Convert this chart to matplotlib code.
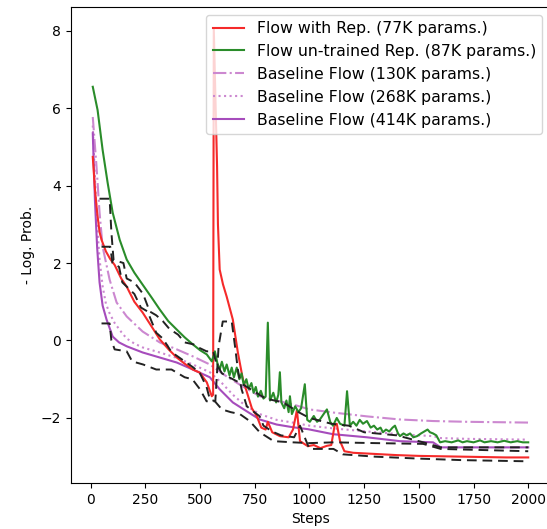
import matplotlib
matplotlib.use("Agg")
import matplotlib.pyplot as plt

# ---- data ----
red_steps = [10, 20, 30, 41, 50, 70, 90, 110, 140, 165, 200, 238, 280, 316, 360, 394, 430, 467, 499, 531, 554,
             560, 563, 578, 582, 590, 605, 622, 650, 673, 696, 737, 760, 780, 800, 810, 830, 865, 905, 925, 943,
             957, 993, 1020, 1050, 1080, 1100, 1115, 1125, 1140, 1160, 1200, 1300, 1400, 1500, 1600, 1700, 1800,
             1900, 2000]
red_vals = [4.74, 3.9, 3.3, 2.8, 2.6, 2.3, 2.1, 1.95, 1.6, 1.39, 1.0, 0.72, 0.35, 0.03, -0.25, -0.44, -0.6, -0.75,
            -0.83, -1.08, -1.44, -1.4, 8.05, 4.5, 3.0, 1.83, 1.45, 1.13, 0.54, -0.31, -1.0, -1.75, -1.96, -2.25,
            -2.3, -2.1, -2.37, -2.47, -2.5, -2.3, -1.8, -2.6, -2.73, -2.7, -2.78, -2.72, -2.7, -2.2, -2.15, -2.6,
            -2.86, -2.9, -2.93, -2.96, -2.98, -2.99, -3.0, -3.01, -3.02, -3.02]

green_steps = [10, 32, 55, 78, 101, 133, 165, 200, 238, 280, 316, 355, 394, 430, 467, 500, 531, 554, 568, 580,
               590, 600, 612, 622, 635, 645, 655, 668, 680, 690, 700, 712, 722, 735, 745, 755, 765, 778, 790, 800,
               810, 820, 835, 848, 858, 865, 872, 885, 895, 905, 911, 920, 935, 950, 962, 979, 990, 1002, 1020,
               1035, 1048, 1065, 1080, 1095, 1108, 1125, 1140, 1160, 1172, 1185, 1200, 1215, 1230, 1245, 1263,
               1280, 1295, 1310, 1325, 1336, 1350, 1365, 1380, 1391, 1405, 1414, 1430, 1445, 1460, 1475, 1492,
               1510, 1525, 1540, 1551, 1565, 1580, 1597, 1620, 1650, 1680, 1700, 1720, 1750, 1780, 1800, 1830,
               1860, 1890, 1920, 1950, 1975, 2000]
green_vals = [6.55, 5.95, 4.92, 4.07, 3.3, 2.6, 2.09, 1.75, 1.44, 1.1, 0.8, 0.5, 0.28, 0.08, -0.1, -0.25, -0.36,
              -0.54, -0.28, -0.6, -0.75, -0.55, -0.8, -0.62, -0.9, -0.7, -0.95, -0.7, -1.0, -0.85, -1.15, -1.0,
              -1.25, -1.1, -1.35, -1.2, -1.45, -1.3, -1.5, -1.45, 0.46, -1.55, -1.35, -1.6, -1.4, -0.82, -1.6,
              -1.75, -1.55, -1.85, -1.44, -1.9, -1.7, -1.85, -1.75, -1.13, -2.05, -2.1, -1.95, -2.1, -2.04, -1.9,
              -1.78, -2.1, -2.2, -2.0, -2.15, -2.2, -1.31, -2.2, -2.1, -2.2, -2.05, -2.15, -2.08, -2.25, -2.2,
              -2.3, -2.25, -2.37, -2.3, -2.35, -2.25, -2.2, -2.4, -2.47, -2.4, -2.45, -2.4, -2.5, -2.47, -2.4,
              -2.35, -2.3, -2.37, -2.4, -2.45, -2.63, -2.6, -2.63, -2.58, -2.63, -2.6, -2.63, -2.58, -2.63, -2.6,
              -2.63, -2.59, -2.63, -2.6, -2.63, -2.63]

b130_steps = [10, 27, 41, 55, 87, 119, 165, 238, 316, 394, 467, 545, 622, 696, 773, 850, 924, 1000, 1108, 1263,
              1414, 1565, 1721, 2000]
b130_vals = [5.77, 4.5, 3.3, 2.42, 1.57, 0.98, 0.62, 0.23, -0.05, -0.23, -0.41, -0.62, -0.93, -1.19, -1.44,
             -1.55, -1.65, -1.78, -1.86, -1.96, -2.04, -2.08, -2.1, -2.12]

b268_steps = [10, 20, 30, 41, 55, 70, 87, 110, 140, 165, 200, 238, 316, 394, 467, 545, 600, 650, 700, 773, 850,
              924, 1000, 1108, 1263, 1414, 1565, 1600, 1721, 2000]
b268_vals = [5.55, 4.2, 3.0, 2.1, 1.4, 0.95, 0.7, 0.45, 0.22, 0.05, -0.08, -0.18, -0.31, -0.45, -0.62, -0.82,
             -1.1, -1.4, -1.65, -1.9, -2.05, -2.12, -2.2, -2.27, -2.35, -2.42, -2.47, -2.52, -2.54, -2.56]

b414_steps = [10, 20, 30, 41, 55, 73, 101, 130, 165, 238, 316, 394, 467, 545, 590, 650, 714, 773, 850, 924, 993,
              1108, 1263, 1414, 1565, 1600, 2000]
b414_vals = [5.35, 3.6, 2.4, 1.5, 0.9, 0.54, 0.1, -0.05, -0.15, -0.31, -0.44, -0.57, -0.75, -0.95, -1.26, -1.6,
             -1.83, -2.04, -2.17, -2.24, -2.29, -2.42, -2.5, -2.6, -2.63, -2.76, -2.76]

# unlabeled black dashed runs
dash1_steps = [41, 87, 95, 105, 150, 165, 200, 240, 270, 300, 330, 360, 400, 430, 470, 500, 530, 560, 575, 600,
               700, 800, 880, 950, 1000, 1100, 1180, 1250, 1400, 1520, 1600, 2000]
dash1_vals = [3.66, 3.66, 2.8, 2.08, 2.0, 1.6, 1.5, 1.2, 0.75, 0.65, 0.5, 0.3, 0.15, -0.05, -0.1, -0.2, -0.28,
              -0.28, -0.6, -0.85, -1.15, -1.5, -1.6, -1.85, -2.0, -2.15, -2.2, -2.37, -2.45, -2.63, -2.76, -2.76]

dash2_steps = [50, 90, 100, 130, 145, 200, 230, 260, 300, 330, 370, 420, 470, 500, 530, 545, 570, 585, 604, 645,
               660, 673, 690, 714, 773, 790, 830, 870, 930, 957, 1000, 1110, 1153, 1300, 1500, 1700, 2000]
dash2_vals = [2.42, 2.42, 2.0, 1.9, 1.5, 1.2, 0.85, 0.75, 0.2, 0.05, -0.3, -0.5, -0.7, -0.85, -1.2, -1.52, -1.57,
              -0.15, 0.49, 0.49, -0.15, -0.75, -1.26, -1.7, -1.96, -2.2, -2.35, -2.45, -2.5, -2.2, -2.8, -2.8,
              -2.94, -3.0, -3.05, -3.09, -3.12]

dash3_steps = [50, 87, 95, 110, 165, 190, 240, 300, 370, 430, 465, 500, 530, 568, 600, 640, 682, 727, 773, 837,
               924, 1000, 1110, 1300, 1520, 1600, 1800, 2000]
dash3_vals = [0.44, 0.44, 0.0, -0.23, -0.28, -0.54, -0.62, -0.75, -0.75, -0.95, -1.0, -1.26, -1.57, -1.57,
              -1.78, -1.85, -1.9, -2.08, -2.37, -2.6, -2.63, -2.65, -2.63, -2.65, -2.67, -2.8, -2.83, -2.86]

labels = ["Flow with Rep. (77K params.)", "Flow un-trained Rep. (87K params.)",
          "Baseline Flow (130K params.)", "Baseline Flow (268K params.)", "Baseline Flow (414K params.)"]

# ---- figure ----
fig = plt.figure(figsize=(5.47, 5.29), dpi=100)
ax = fig.add_axes([71 / 547, 46 / 529, 479 / 547, 476 / 529])

ax.plot(red_steps, red_vals, color="#f52a2a", lw=1.5, label=labels[0], zorder=3)
ax.plot(green_steps, green_vals, color="#2a8c2a", lw=1.5, label=labels[1], zorder=3)
ax.plot(b130_steps, b130_vals, color="#cc88d0", lw=1.5, ls="-.", label=labels[2], zorder=2)
ax.plot(b268_steps, b268_vals, color="#cc88d0", lw=1.5, ls=":", label=labels[3], zorder=2)
ax.plot(b414_steps, b414_vals, color="#a64cbc", lw=1.5, ls="-", label=labels[4], zorder=2)

for s, v in [(dash1_steps, dash1_vals), (dash2_steps, dash2_vals), (dash3_steps, dash3_vals)]:
    ax.plot(s, v, color="#222222", lw=1.4, ls=(0, (5, 3)), zorder=4)

ax.set_xlim(-89.5, 2099.5)
ax.set_ylim(-3.68, 8.61)
ax.set_xticks([0, 250, 500, 750, 1000, 1250, 1500, 1750, 2000])
ax.set_yticks([-2, 0, 2, 4, 6, 8])
ax.set_xlabel("Steps")
ax.set_ylabel("- Log. Prob.")
ax.legend(loc="upper right", fontsize=11.3)

fig.savefig("out.png", dpi=100)
